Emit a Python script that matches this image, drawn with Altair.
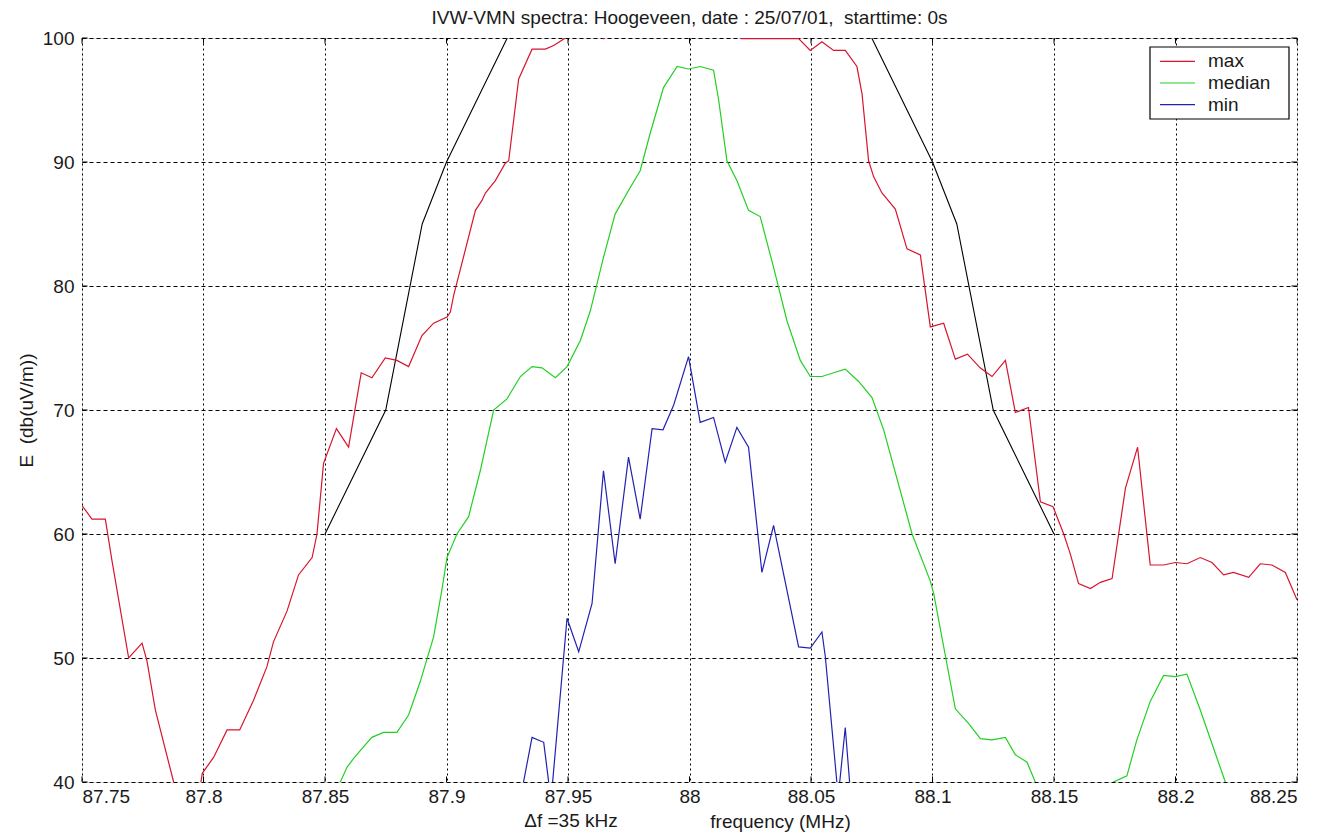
import altair as alt
import pandas as pd

# ---- data ----
max_f = [87.7500, 87.7541, 87.7596, 87.7623, 87.7692, 87.7747, 87.7767, 87.7802, 87.7877, 87.7970,
         87.7995, 87.8042, 87.8097, 87.8149, 87.8206, 87.8261, 87.8288, 87.8344, 87.8391, 87.8447,
         87.8467, 87.8494, 87.8547, 87.8597, 87.8649, 87.8693, 87.8748, 87.8796, 87.8844, 87.8899,
         87.8947, 87.9002, 87.9016, 87.9029, 87.9119, 87.9146, 87.9160, 87.9201, 87.9242, 87.9256,
         87.9297, 87.9352, 87.9407, 87.9441, 87.9489, 87.9550, 87.9647, 87.9750, 87.9900, 88.0050,
         88.0213, 88.0330, 88.0449, 88.0497, 88.0545, 88.0593, 88.0641, 88.0689, 88.0710, 88.0737,
         88.0758, 88.0792, 88.0847, 88.0895, 88.0950, 88.0991, 88.1046, 88.1094, 88.1144, 88.1196,
         88.1245, 88.1300, 88.1341, 88.1395, 88.1444, 88.1496, 88.1540, 88.1567, 88.1601, 88.1650,
         88.1691, 88.1739, 88.1794, 88.1844, 88.1896, 88.1951, 88.1999, 88.2047, 88.2102, 88.2150,
         88.2198, 88.2239, 88.2301, 88.2349, 88.2397, 88.2452, 88.2500]
max_v = [62.3, 61.2, 61.2, 57.9, 50.0, 51.2, 49.8, 45.8, 40.0, 37.5,
         40.7, 42.0, 44.2, 44.2, 46.6, 49.3, 51.3, 53.8, 56.7, 58.1,
         60.0, 65.7, 68.5, 67.0, 73.0, 72.6, 74.2, 74.0, 73.5, 76.0,
         77.0, 77.5, 77.9, 79.2, 86.1, 86.9, 87.5, 88.5, 89.9, 90.1,
         96.7, 99.1, 99.1, 99.4, 100.0, 101.5, 99.95, 102.0, 104.0, 104.0,
         99.95, 99.95, 99.95, 99.0, 99.7, 99.0, 99.0, 97.7, 95.5, 90.1,
         88.8, 87.5, 86.2, 83.0, 82.5, 76.7, 77.0, 74.1, 74.5, 73.4,
         72.7, 74.0, 69.8, 70.2, 62.6, 62.2, 60.0, 58.4, 56.0, 55.6,
         56.1, 56.4, 63.7, 67.0, 57.5, 57.5, 57.7, 57.6, 58.1, 57.7,
         56.7, 56.9, 56.5, 57.6, 57.5, 56.9, 54.7]

med_f = [87.8500, 87.8563, 87.8591, 87.8618, 87.8652, 87.8693, 87.8741, 87.8796, 87.8844, 87.8892,
         87.8947, 87.8981, 87.9002, 87.9043, 87.9091, 87.9139, 87.9194, 87.9249, 87.9304, 87.9352,
         87.9393, 87.9448, 87.9496, 87.9551, 87.9592, 87.9646, 87.9694, 87.9749, 87.9797, 87.9838,
         87.9893, 87.9949, 87.9996, 88.0044, 88.0099, 88.0120, 88.0154, 88.0195, 88.0243, 88.0291,
         88.0346, 88.0401, 88.0456, 88.0497, 88.0545, 88.0593, 88.0641, 88.0696, 88.0751, 88.0799,
         88.0916, 88.0991, 88.1005, 88.1094, 88.1149, 88.1197, 88.1245, 88.1300, 88.1341, 88.1389,
         88.1423, 88.1500, 88.1650, 88.1710, 88.1745, 88.1800, 88.1841, 88.1896, 88.1951, 88.1999,
         88.2047, 88.2102, 88.2157, 88.2205, 88.2300, 88.2500]
med_v = [38.5, 40.0, 41.2, 41.9, 42.7, 43.6, 44.0, 44.0, 45.4, 48.1,
         51.7, 55.5, 58.1, 60.0, 61.4, 65.1, 70.0, 70.9, 72.7, 73.5,
         73.4, 72.6, 73.5, 75.6, 78.0, 82.3, 85.8, 87.7, 89.3, 92.3,
         96.0, 97.7, 97.5, 97.7, 97.4, 95.0, 90.1, 88.5, 86.1, 85.6,
         81.5, 77.2, 74.0, 72.7, 72.7, 73.0, 73.3, 72.3, 71.0, 68.4,
         60.0, 56.2, 55.2, 45.9, 44.7, 43.5, 43.4, 43.6, 42.2, 41.6,
         40.0, 37.5, 36.5, 38.5, 40.0, 40.5, 43.4, 46.5, 48.6, 48.5,
         48.7, 45.8, 42.7, 40.0, 37.0, 35.0]

min_f = [87.9290, 87.9317, 87.9352, 87.9400, 87.9430, 87.9496, 87.9544, 87.9599, 87.9646, 87.9694,
         87.9749, 87.9797, 87.9846, 87.9891, 87.9935, 87.9996, 88.0044, 88.0099, 88.0147, 88.0195,
         88.0243, 88.0298, 88.0346, 88.0449, 88.0497, 88.0545, 88.0559, 88.0612, 88.0641, 88.0675]
min_v = [38.0, 40.0, 43.6, 43.2, 38.5, 53.2, 50.5, 54.4, 65.1, 57.6,
         66.2, 61.2, 68.5, 68.4, 70.4, 74.3, 69.0, 69.4, 65.8, 68.6,
         67.0, 56.9, 60.7, 50.9, 50.8, 52.1, 50.1, 38.8, 44.4, 36.0]

mask_f = [87.850, 87.875, 87.890, 87.900, 87.925, 88.075, 88.100, 88.110, 88.125, 88.150]
mask_v = [60, 70, 85, 90, 100, 100, 90, 85, 70, 60]
mask_side = ["left"] * 5 + ["right"] * 5

series_names = ["max", "median", "min"]
series_colors = ["#d8142e", "#22d022", "#2222b0"]

x_ticks = [87.75, 87.8, 87.85, 87.9, 87.95, 88.0, 88.05, 88.1, 88.15, 88.2, 88.25]
y_ticks = [40, 50, 60, 70, 80, 90, 100]

title_text = "IVW-VMN spectra: Hoogeveen, date : 25/07/01,\u00a0 starttime: 0s"
x_title = "frequency (MHz)"
df_note = "\u0394f =35 kHz"
y_title = "E\u00a0\u00a0(db(uV/m))"

FONT = "Liberation Sans"
FS = 19
TXT = "#1a1a1a"
W, H = 1215, 744

# ---- tables ----
rows = []
for name, fs, vs in zip(series_names, [max_f, med_f, min_f], [max_v, med_v, min_v]):
    for f, v in zip(fs, vs):
        rows.append({"series": name, "f": f, "v": v})
spec_df = pd.DataFrame(rows)
mask_df = pd.DataFrame({"f": mask_f, "v": mask_v, "side": mask_side})
xt_df = pd.DataFrame({"f": x_ticks})
yt_df = pd.DataFrame({"v": y_ticks})

xscale = alt.Scale(domain=[87.75, 88.25], nice=False, zero=False)
yscale = alt.Scale(domain=[40, 100], nice=False, zero=False)

xaxis = alt.Axis(values=x_ticks, format="~g", grid=True, gridDash=[2, 3], gridColor="black",
                 gridOpacity=1, ticks=False, domain=False, labelFont=FONT, labelFontSize=FS,
                 labelPadding=5, labelColor=TXT, title=x_title, titleFont=FONT,
                 titleFontSize=FS, titleFontWeight="normal", titleColor=TXT,
                 titleX=698, titleY=45, titleAnchor="middle", titleBaseline="alphabetic")
yaxis = alt.Axis(values=y_ticks, grid=True, gridDash=[4, 3], gridColor="black", gridOpacity=1,
                 ticks=False, domain=False, labelFont=FONT, labelFontSize=FS, labelPadding=8,
                 labelColor=TXT, title=y_title, titleFont=FONT, titleFontSize=FS,
                 titleFontWeight="normal", titleColor=TXT, titlePadding=6)

lines = alt.Chart(spec_df).mark_line(clip=True, strokeWidth=1.2).encode(
    x=alt.X("f:Q", scale=xscale, axis=xaxis),
    y=alt.Y("v:Q", scale=yscale, axis=yaxis),
    color=alt.Color("series:N",
                    scale=alt.Scale(domain=series_names, range=series_colors),
                    legend=None),
    order="f:Q",
)

mask = alt.Chart(mask_df).mark_line(clip=True, color="black", strokeWidth=1.1).encode(
    x=alt.X("f:Q", scale=xscale),
    y=alt.Y("v:Q", scale=yscale),
    detail="side:N",
    order="f:Q",
)

tick_len_y = 0.45
tick_len_x = 0.0023
bot_ticks = alt.Chart(xt_df).mark_rule(color="black").encode(
    x=alt.X("f:Q", scale=xscale), y=alt.datum(40), y2=alt.datum(40 + tick_len_y))
top_ticks = alt.Chart(xt_df).mark_rule(color="black").encode(
    x=alt.X("f:Q", scale=xscale), y=alt.datum(100), y2=alt.datum(100 - tick_len_y))
left_ticks = alt.Chart(yt_df).mark_rule(color="black").encode(
    y=alt.Y("v:Q", scale=yscale), x=alt.datum(87.75), x2=alt.datum(87.75 + tick_len_x))
right_ticks = alt.Chart(yt_df).mark_rule(color="black").encode(
    y=alt.Y("v:Q", scale=yscale), x=alt.datum(88.25), x2=alt.datum(88.25 - tick_len_x))

note = alt.Chart(pd.DataFrame({"t": [df_note]})).mark_text(
    font=FONT, fontSize=FS, color=TXT, align="center", baseline="alphabetic"
).encode(text="t:N", x=alt.value(489), y=alt.value(H + 45))

# ---- legend box drawn by hand (MATLAB style) ----
leg_x0, leg_x1, leg_y0, leg_y1 = 1068, 1207, 9, 81
leg_rows = [23.3, 45.0, 66.6]
legend_layers = [
    alt.Chart(pd.DataFrame({"a": [0]})).mark_rect(fill="white", stroke="black", strokeWidth=1.2).encode(
        x=alt.value(leg_x0), x2=alt.value(leg_x1), y=alt.value(leg_y0), y2=alt.value(leg_y1))
]
for name, col, ry in zip(series_names, series_colors, leg_rows):
    legend_layers.append(
        alt.Chart(pd.DataFrame({"a": [0]})).mark_rule(color=col, strokeWidth=1.2).encode(
            x=alt.value(1078), x2=alt.value(1113), y=alt.value(ry)))
    legend_layers.append(
        alt.Chart(pd.DataFrame({"t": [name]})).mark_text(
            font=FONT, fontSize=FS, color=TXT, align="left", baseline="middle").encode(
            text="t:N", x=alt.value(1126), y=alt.value(ry)))

chart = alt.layer(mask, lines, bot_ticks, top_ticks, left_ticks, right_ticks, note,
                  *legend_layers).properties(
    width=W, height=H,
    title=alt.Title(title_text, font=FONT, fontSize=FS, fontWeight="normal", color=TXT,
                    anchor="middle", offset=1),
    autosize=alt.AutoSizeParams(type="none"),
    padding={"left": 74, "top": 30, "right": 20, "bottom": 50},
).configure_view(stroke="black", strokeWidth=1.2).configure(background="white")

chart.save("out.html", embed_options={"renderer": "svg", "actions": False})
